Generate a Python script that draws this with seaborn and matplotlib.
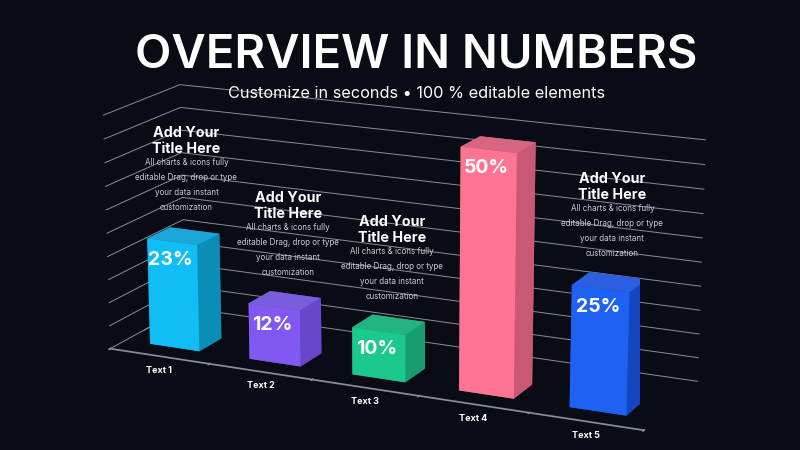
import numpy as np
import pandas as pd
import seaborn as sns
import matplotlib
matplotlib.use("Agg")
import matplotlib.pyplot as plt
from mpl_toolkits.mplot3d import proj3d

# data
categories = ["Text 1", "Text 2", "Text 3", "Text 4", "Text 5"]
values = [23, 12, 10, 50, 25]
labels = ["23%", "12%", "10%", "50%", "25%"]
show_note = [True, True, True, False, True]
note_title = "Add Your\nTitle Here"
note_body = "All charts & icons fully\neditable Drag, drop or type\nyour data instant\ncustomization"

bg = "#0a0c15"
gridc = "#8a8d96"
front = ["#10bdf4", "#8158f2", "#1cc98c", "#ff7393", "#1e62f4"]
side = ["#0a8db7", "#6646c9", "#159f70", "#c95874", "#1546c2"]
top = ["#1aa7d8", "#7a5ddc", "#22b481", "#d76680", "#2c5ee0"]

sns.set_theme(style="dark", rc={"axes.facecolor": bg, "figure.facecolor": bg,
                                "grid.color": gridc, "grid.linewidth": 0.7})
plt.rcParams["font.family"] = ["Inter", "DejaVu Sans"]

df = pd.DataFrame({"cat": categories, "val": values})
df["x"] = np.arange(len(df))

fig = plt.figure(figsize=(8, 4.5), dpi=100)
ax = fig.add_axes([-0.01, -0.115, 1.0, 1.1], projection="3d", computed_zorder=False)
ax.set_proj_type("persp", focal_length=1.0)
ax.view_init(elev=16, azim=-65)
ax.set_box_aspect((5.2, 1.4, 2.2), zoom=1.28)
ax.set_xlim(-0.5, 4.5)
ax.set_ylim(0, 1)
ax.set_zlim(0, 50)

bw, bd, y0 = 0.5, 0.3, 0.2
for i, r in df.iterrows():
    cols = [side[i], top[i], front[i], side[i], side[i], side[i]]
    ax.bar3d(r["x"] - bw / 2, y0, 0, bw, bd, r["val"], color=cols, shade=False,
             edgecolor="none", zorder=10 + i)

ax.set_xticks(np.arange(-0.5, 5, 1))
ax.set_xticklabels([])
ax.set_yticks([])
ax.set_zticks(np.arange(0, 55, 5))
ax.set_zticklabels([])
for a in (ax.xaxis, ax.yaxis, ax.zaxis):
    a.set_pane_color((0, 0, 0, 0))
ax.xaxis._axinfo["grid"]["linewidth"] = 0
ax.yaxis._axinfo["grid"]["linewidth"] = 0
ax.zaxis.line.set_color((0, 0, 0, 0))
ax.yaxis.line.set_color((0, 0, 0, 0))
ax.xaxis.line.set_color(gridc)
ax.tick_params(axis="x", color=gridc)
ax.tick_params(axis="z", color=(0, 0, 0, 0))
# left floor edge
ax.plot([-0.5, -0.5], [0, 1], [0, 0], color=gridc, lw=0.7, zorder=1)

fig.canvas.draw()
M = ax.get_proj()


def to2d(x, y, z):
    px, py, _ = proj3d.proj_transform(x, y, z, M)
    return px, py


for i, r in df.iterrows():
    # category label under the front edge
    px, py = to2d(r["x"], 0, 0)
    ax.annotate(r["cat"], (px, py), xytext=(0, -14), textcoords="offset pixels",
                ha="center", va="center", color="white", fontsize=6.5,
                fontweight="bold", zorder=100)
    # value on the front face
    px, py = to2d(r["x"], y0, r["val"])
    ax.annotate(labels[i], (px, py), xytext=(-2, -18), textcoords="offset pixels",
                ha="center", va="center", color="white", fontsize=14,
                fontweight="bold", zorder=100)
    if show_note[i]:
        px, py = to2d(r["x"], y0 + bd / 2, r["val"])
        ax.annotate(note_body, (px, py), xytext=(3, 24), textcoords="offset pixels",
                    ha="center", va="bottom", color="#c9cbd2", fontsize=5.8,
                    linespacing=1.85, zorder=100)
        ax.annotate(note_title, (px, py), xytext=(3, 80), textcoords="offset pixels",
                    ha="center", va="bottom", color="white", fontsize=10.3,
                    fontweight="bold", linespacing=1.15, zorder=100)

fig.text(0.52, 0.876, "OVERVIEW IN NUMBERS", ha="center", va="center",
         color="white", fontsize=34, fontweight="semibold")
fig.text(0.52, 0.793, "Customize in seconds \u2022 100 % editable elements",
         ha="center", va="center", color="white", fontsize=11.7)

fig.savefig("out.png", dpi=100, facecolor=bg)
